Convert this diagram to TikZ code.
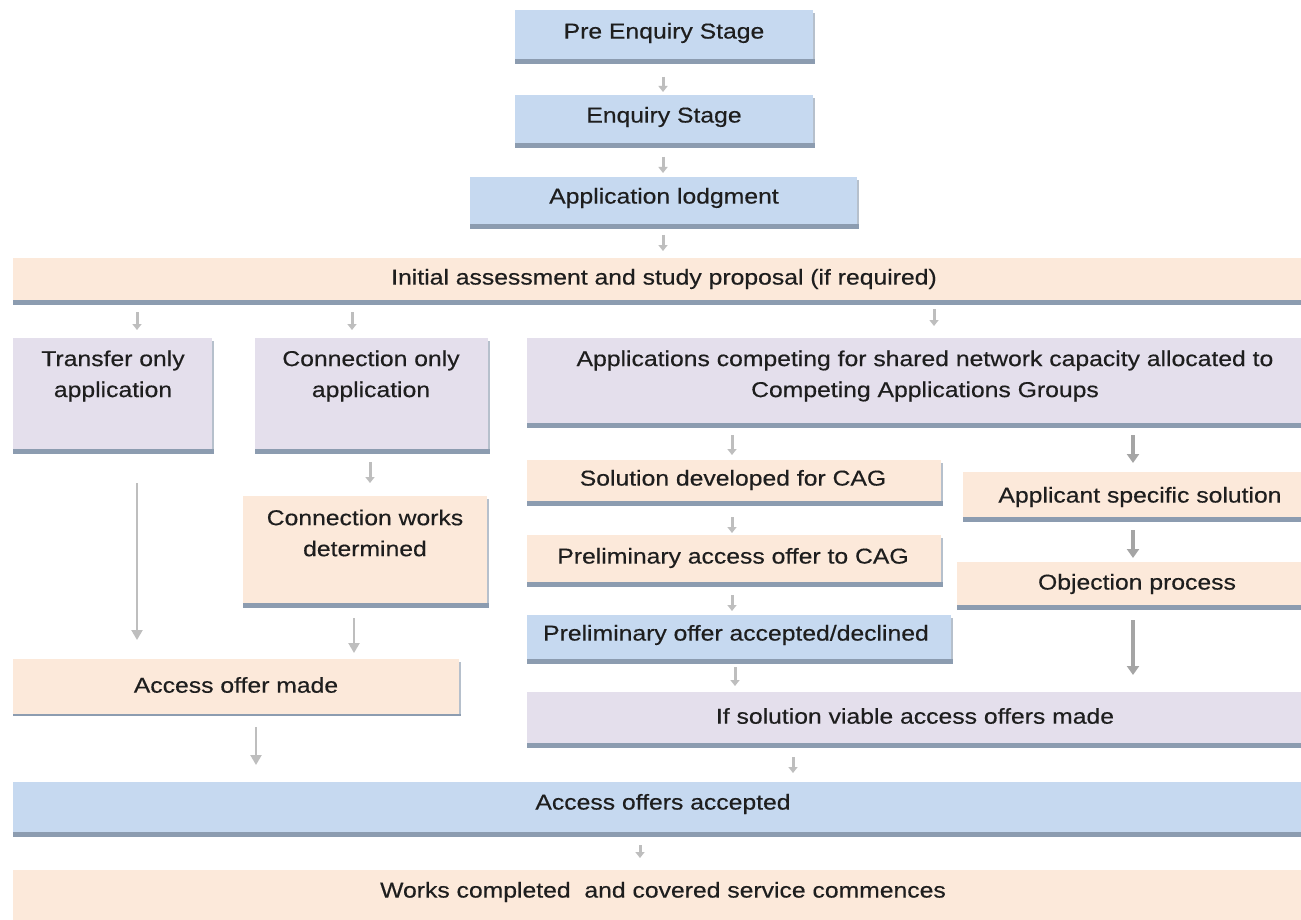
\documentclass[tikz,border=0pt]{standalone}
\usepackage{fontspec}
\setmainfont{Liberation Sans}[FakeStretch=1.15,FakeBold=0.4]
\usetikzlibrary{arrows.meta}
\definecolor{bluef}{RGB}{198,217,240}
\definecolor{peachf}{RGB}{252,233,218}
\definecolor{lavf}{RGB}{228,223,236}
\definecolor{shadowc}{RGB}{140,156,176}
\definecolor{edgec}{RGB}{182,192,204}
\definecolor{textc}{RGB}{30,30,30}
\definecolor{arrc}{RGB}{190,190,190}
\definecolor{arrd}{RGB}{165,165,165}
\newcommand\mkbox[7]{%
  \node[box, fill=#6, minimum width={#4-#2}, minimum height={#5-#3}] (#1) at ({(#2+#4)/2},{(#3+#5)/2}) {};
  \fill[shadowc] (#1.south west) rectangle ([xshift=2pt,yshift=-#7pt]#1.south east);
  \fill[edgec] ([yshift=-3pt]#1.north east) rectangle ([xshift=2pt]#1.south east);
}
\newcommand\mktext[4]{\node[txt] (#1) at (#2,#3) {#4};}
\newcommand\linkit[6]{\draw[#6, shorten <=#4pt, shorten >=#5pt] (#1.south -| #3) -- (#2.north -| #3);}
\begin{document}
\begin{tikzpicture}[x=1pt,y=-1pt,
  box/.style={inner sep=0pt, outer sep=0pt, draw=none},
  txt/.style={align=center, inner sep=0pt, text=textc, font=\fontsize{21.5}{31}\selectfont},
  arrsmall/.style={draw=arrc, line width=3pt, -{Triangle[width=9pt,length=6pt]}},
  arrmid/.style={draw=arrd, line width=4pt, -{Triangle[width=12pt,length=9pt]}},
  arrlong/.style={draw=arrc, line width=2.2pt, -{Triangle[width=11pt,length=10pt]}}]
\useasboundingbox (0,0) rectangle (1301,920);
\fill[white] (0,0) rectangle (1301,920);

\mkbox{pre}{515}{10}{813}{59}{bluef}{5}
\mkbox{enq}{515}{95}{813}{143}{bluef}{5}
\mkbox{app}{470}{177}{857}{224}{bluef}{5}
\mkbox{init}{13}{258}{1301}{300}{peachf}{5}
\mkbox{tr}{13}{338}{212}{449}{lavf}{5}
\mkbox{conn}{255}{338}{488}{449}{lavf}{5}
\mkbox{comp}{527}{338}{1301}{423}{lavf}{5}
\mkbox{sol}{527}{460}{941}{501}{peachf}{5}
\mkbox{aps}{963}{472}{1301}{517}{peachf}{5}
\mkbox{cwd}{243}{496}{487}{603}{peachf}{5}
\mkbox{pao}{527}{535}{941}{582}{peachf}{5}
\mkbox{obj}{957}{562}{1301}{605}{peachf}{5}
\mkbox{poa}{527}{615}{951}{659}{bluef}{5}
\mkbox{aom}{13}{659}{459}{714}{peachf}{2}
\mkbox{isv}{527}{692}{1301}{743}{lavf}{5}
\mkbox{aoa}{13}{782}{1301}{832}{bluef}{5}
\mkbox{wc}{13}{870}{1301}{922}{peachf}{5}

\mktext{pret}{664}{33}{Pre Enquiry Stage}
\mktext{enqt}{664}{117}{Enquiry Stage}
\mktext{appt}{664}{198}{Application lodgment}
\mktext{initt}{664}{279}{Initial assessment and study proposal (if required)}
\mktext{trt}{113}{376}{Transfer only\\application}
\mktext{connt}{371}{376}{Connection only\\application}
\mktext{compt}{925}{376}{Applications competing for shared network capacity allocated to\\Competing Applications Groups}
\mktext{solt}{733}{480}{Solution developed for CAG}
\mktext{apst}{1140}{497}{Applicant specific solution}
\mktext{cwdt}{365}{533}{Connection works\\determined}
\mktext{paot}{733}{558}{Preliminary access offer to CAG}
\mktext{objt}{1137}{584}{Objection process}
\mktext{poat}{736}{635}{Preliminary offer accepted/declined}
\mktext{aomt}{236}{685}{Access offer made}
\mktext{isvt}{915}{716}{If solution viable access offers made}
\mktext{aoat}{663}{804}{Access offers accepted}
\mktext{wct}{663}{892}{Works completed\ \ and covered service commences}

\coordinate (c137) at (137,0);
\coordinate (c256) at (256,0);
\coordinate (c352) at (352,0);
\coordinate (c354) at (354,0);
\coordinate (c370) at (370,0);
\coordinate (c640) at (640,0);
\coordinate (c663) at (663,0);
\coordinate (c732) at (732,0);
\coordinate (c735) at (735,0);
\coordinate (c793) at (793,0);
\coordinate (c934) at (934,0);
\coordinate (c1133) at (1133,0);

\linkit{pre}{enq}{c663}{18}{3}{arrsmall}
\linkit{enq}{app}{c663}{14}{4}{arrsmall}
\linkit{app}{init}{c663}{11}{7}{arrsmall}
\linkit{init}{tr}{c137}{12}{8}{arrsmall}
\linkit{init}{conn}{c352}{12}{8}{arrsmall}
\linkit{init}{comp}{c934}{9}{12}{arrsmall}
\linkit{comp}{sol}{c732}{12}{5}{arrsmall}
\linkit{comp}{aps}{c1133}{12}{9}{arrmid}
\linkit{conn}{cwd}{c370}{13}{13}{arrsmall}
\linkit{tr}{aom}{c137}{34}{19}{arrlong}
\linkit{sol}{pao}{c732}{16}{2}{arrsmall}
\linkit{aps}{obj}{c1133}{13}{4}{arrmid}
\linkit{pao}{poa}{c732}{13}{4}{arrsmall}
\linkit{cwd}{aom}{c354}{15}{6}{arrlong}
\linkit{obj}{isv}{c1133}{15}{17}{arrmid}
\linkit{poa}{isv}{c735}{8}{6}{arrsmall}
\linkit{aom}{aoa}{c256}{13}{17}{arrlong}
\linkit{isv}{aoa}{c793}{14}{9}{arrsmall}
\linkit{aoa}{wc}{c640}{13}{12}{arrsmall}
\end{tikzpicture}
\end{document}
